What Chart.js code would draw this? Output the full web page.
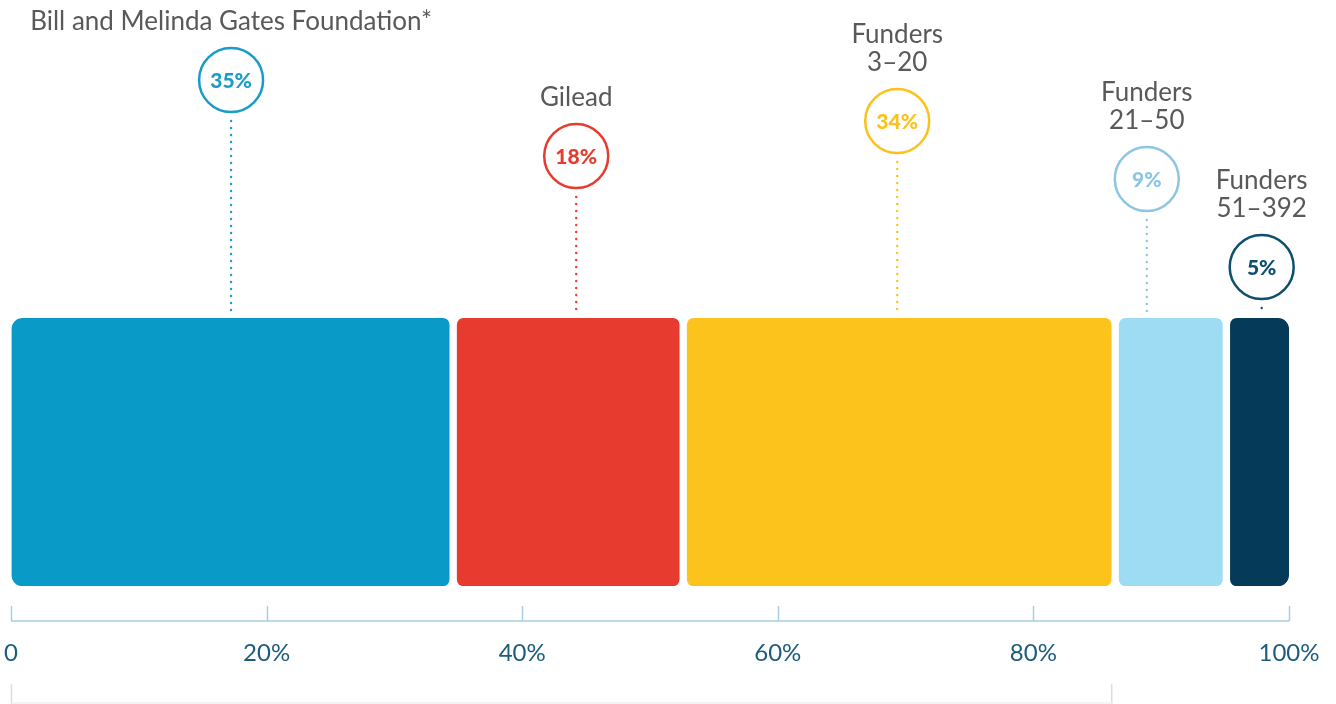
<!DOCTYPE html>
<html>
<head>
<meta charset="utf-8">
<script src="https://cdn.jsdelivr.net/npm/chart.js@4/dist/chart.umd.min.js"></script>
<style>
  html, body { margin: 0; padding: 0; background: #ffffff; }
  #wrap { position: relative; width: 1336px; height: 704px; }
</style>
</head>
<body>
<div id="wrap"><canvas id="c"></canvas></div>
<script>
// ---- Data ----
const categories = [
  "Bill and Melinda Gates Foundation*",
  "Gilead",
  ["Funders", "3\u201320"],
  ["Funders", "21\u201350"],
  ["Funders", "51\u2013392"]
];
const shares = [34.6, 18.0, 33.8, 8.7, 4.9];
const shareLabels = ["35%", "18%", "34%", "9%", "5%"];
const tickValues = [0, 20, 40, 60, 80, 100];
const tickLabels = ["0", "20%", "40%", "60%", "80%", "100%"];

// ---- Styles ----
const barColors = ["#099ac8", "#e63b2e", "#fdc31d", "#9edcf4", "#053b58"];
const ringColors = ["#1a9cc9", "#e63b2e", "#fcc21b", "#8cc6e2", "#0d4f6e"];
const ringCenterY = [80, 156, 121, 179, 267];
const ringOffsetX = [-1, 8, -2, -24, 4];
const bracketSegments = 3;
const FONT = "Lato, 'Open Sans', sans-serif";
const half = 4;

const datasets = shares.map((v, i) => {
  const last = shares.length - 1;
  return {
    label: Array.isArray(categories[i]) ? categories[i].join(" ") : categories[i],
    data: [v],
    backgroundColor: barColors[i],
    borderColor: "#ffffff",
    borderWidth: { left: i === 0 ? 0 : half, right: i === last ? 0 : half, top: 0, bottom: 0 },
    borderSkipped: false,
    borderRadius: { topLeft: 11, topRight: 11, bottomLeft: 11, bottomRight: 11 },
    barPercentage: 1,
    categoryPercentage: 1
  };
});

const decor = {
  id: "decor",
  afterDatasetsDraw(chart) {
    const ctx = chart.ctx;
    const xs = chart.scales.x;
    const area = chart.chartArea;
    ctx.save();
    // axis line + ticks
    const axisY = 621;
    ctx.strokeStyle = "#a6cfe2";
    ctx.lineWidth = 1.5;
    ctx.beginPath();
    ctx.moveTo(xs.getPixelForValue(0), axisY);
    ctx.lineTo(xs.getPixelForValue(100), axisY);
    tickValues.forEach(t => {
      const px = Math.round(xs.getPixelForValue(t)) + 0.5;
      ctx.moveTo(px, axisY);
      ctx.lineTo(px, axisY - 15);
    });
    ctx.stroke();

    // bottom bracket
    let cum = 0;
    for (let i = 0; i < bracketSegments; i++) cum += shares[i];
    const bx0 = xs.getPixelForValue(0) + 0.5;
    const bx1 = xs.getPixelForValue(cum) - half + 0.5;
    ctx.strokeStyle = "#dddddd";
    ctx.lineWidth = 1.5;
    ctx.beginPath();
    ctx.moveTo(bx0, 684); ctx.lineTo(bx0, 704);
    ctx.moveTo(bx1, 684); ctx.lineTo(bx1, 704);
    ctx.stroke();
    ctx.strokeStyle = "#f0f0f0";
    ctx.beginPath();
    ctx.moveTo(bx0, 703); ctx.lineTo(bx1, 703);
    ctx.stroke();

    // callouts
    let start = 0;
    shares.forEach((v, i) => {
      const cx = xs.getPixelForValue(start + v / 2) + ringOffsetX[i];
      start += v;
      const cy = ringCenterY[i];
      const r = 32;
      // dotted leader
      ctx.strokeStyle = ringColors[i];
      ctx.lineWidth = 2.4;
      ctx.lineCap = "round";
      ctx.setLineDash([0, 7]);
      ctx.beginPath();
      ctx.moveTo(cx, cy + r + 9);
      ctx.lineTo(cx, area.top - 3);
      ctx.stroke();
      ctx.setLineDash([]);
      // ring
      ctx.fillStyle = "#ffffff";
      ctx.lineWidth = 2.5;
      ctx.beginPath();
      ctx.arc(cx, cy, r, 0, Math.PI * 2);
      ctx.fill();
      ctx.stroke();
      // percent
      ctx.fillStyle = ringColors[i];
      ctx.font = "900 21px " + FONT;
      ctx.textAlign = "center";
      ctx.textBaseline = "middle";
      ctx.fillText(shareLabels[i], cx, cy + 1);
      // name
      const lines = Array.isArray(categories[i]) ? categories[i] : [categories[i]];
      ctx.fillStyle = "#58595b";
      ctx.font = "26px " + FONT;
      lines.forEach((ln, k) => {
        const ly = cy - 58 - (lines.length - 1 - k) * 28;
        ctx.fillText(ln, cx, ly);
      });
    });
    ctx.restore();
  }
};

new Chart(document.getElementById("c"), {
  type: "bar",
  data: { labels: ["Funding"], datasets },
  options: {
    indexAxis: "y",
    responsive: true,
    maintainAspectRatio: false,
    animation: false,
    events: [],
    layout: { padding: { top: 318, left: 11, right: 47, bottom: 32 } },
    plugins: { legend: { display: false }, tooltip: { enabled: false } },
    scales: {
      x: {
        stacked: true,
        min: 0,
        max: 100,
        afterBuildTicks: (s) => { s.ticks = tickValues.map(v => ({ value: v })); },
        grid: { display: true, drawOnChartArea: false, drawTicks: true, tickLength: 49, color: "rgba(0,0,0,0)" },
        border: { display: false },
        ticks: {
          padding: 4,
          color: "#1c5d7e",
          font: { family: FONT, size: 24 },
          maxRotation: 0,
          autoSkip: false,
          callback: (v) => tickLabels[tickValues.indexOf(v)]
        }
      },
      y: { stacked: true, display: false }
    }
  },
  plugins: [decor]
});
</script>
</body>
</html>
